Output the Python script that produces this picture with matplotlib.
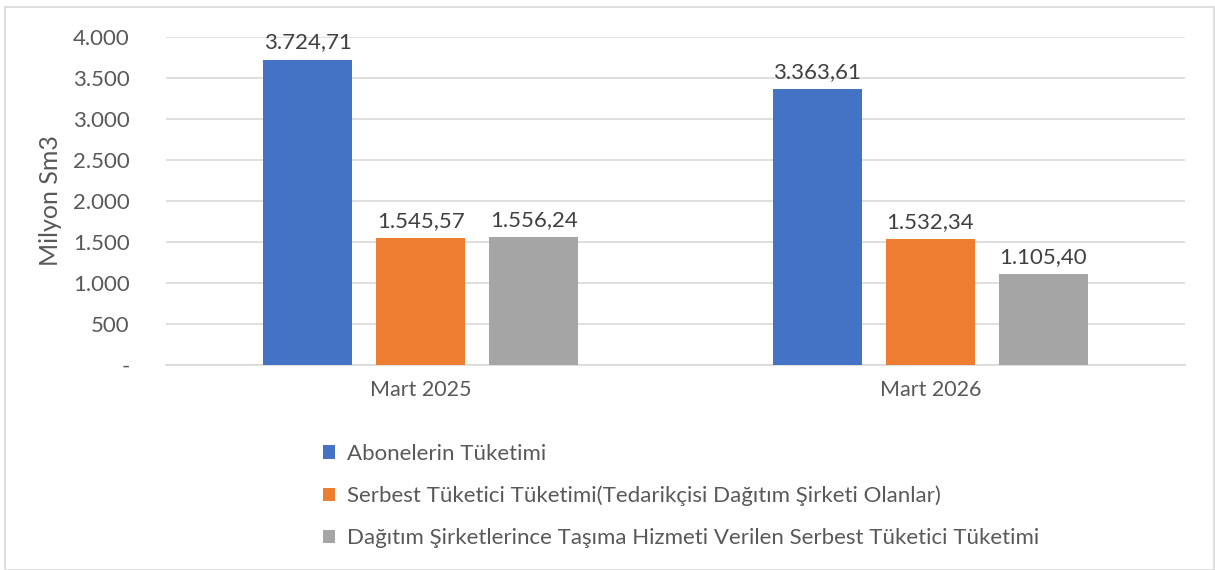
import matplotlib.pyplot as plt
from matplotlib.patches import Rectangle
import numpy as np

plt.rcParams['font.family'] = ['Lato', 'DejaVu Sans']

# Veriler
donemler = ["Mart 2025", "Mart 2026"]
seriler = [
    "Abonelerin Tüketimi",
    "Serbest Tüketici Tüketimi(Tedarikçisi Dağıtım Şirketi Olanlar)",
    "Dağıtım Şirketlerince Taşıma Hizmeti Verilen Serbest Tüketici Tüketimi",
]
abone = [3724.71, 3363.61]
serbest_tedarik = [1545.57, 1532.34]
serbest_tasima = [1556.24, 1105.40]
renkler = ["#4472C4", "#ED7D31", "#A5A5A5"]


def tr_sayi(v, ondalik=2):
    s = f"{v:,.{ondalik}f}"
    return s.replace(",", "X").replace(".", ",").replace("X", ".")


fig = plt.figure(figsize=(12.15, 5.7), dpi=100)
ax = fig.add_axes([166 / 1215, 1 - 365 / 570, (1185 - 166) / 1215, (365 - 37) / 570])

x = np.arange(len(donemler))
genislik = 0.175
aralik = 0.222
for i, (vals, ad) in enumerate(zip([abone, serbest_tedarik, serbest_tasima], seriler)):
    bars = ax.bar(x + (i - 1) * aralik, vals, genislik, color=renkler[i], label=ad, zorder=3)
    for b, v in zip(bars, vals):
        ax.text(b.get_x() + b.get_width() / 2, v + 90, tr_sayi(v), ha="center", va="bottom",
                fontsize=16, color="#404040")

ax.set_xlim(-0.5, 1.5)
ax.set_ylim(0, 4000)
yt = np.arange(0, 4001, 500)
ax.set_yticks(yt)
ax.set_yticklabels(["-" if v == 0 else tr_sayi(v, 0) for v in yt], fontsize=16, color="#595959")
ax.set_xticks(x)
ax.set_xticklabels(donemler, fontsize=15.5, color="#595959")
ax.tick_params(axis="both", length=0)
ax.tick_params(axis="y", pad=26)
ax.tick_params(axis="x", pad=11)
ax.grid(axis="y", color="#D9D9D9", linewidth=1.2, zorder=0)
for s in ["top", "right", "left"]:
    ax.spines[s].set_visible(False)
ax.spines["bottom"].set_color("#D9D9D9")
ax.spines["bottom"].set_linewidth(1.2)
ax.set_ylabel("Milyon Sm3", fontsize=18, color="#595959", labelpad=8)

leg = fig.legend(loc="upper left", bbox_to_anchor=(303 / 1215, 1 - 424 / 570), frameon=False,
                 fontsize=16, labelcolor="#595959", handlelength=0.55, handleheight=0.55,
                 handletextpad=0.55, labelspacing=0.98)

fig.patches.append(Rectangle((5 / 1215, 0), 1209 / 1215, 1 - 7 / 570, transform=fig.transFigure,
                             fill=False, edgecolor="#D9D9D9", linewidth=1.2))

fig.savefig("out.png", dpi=100)
